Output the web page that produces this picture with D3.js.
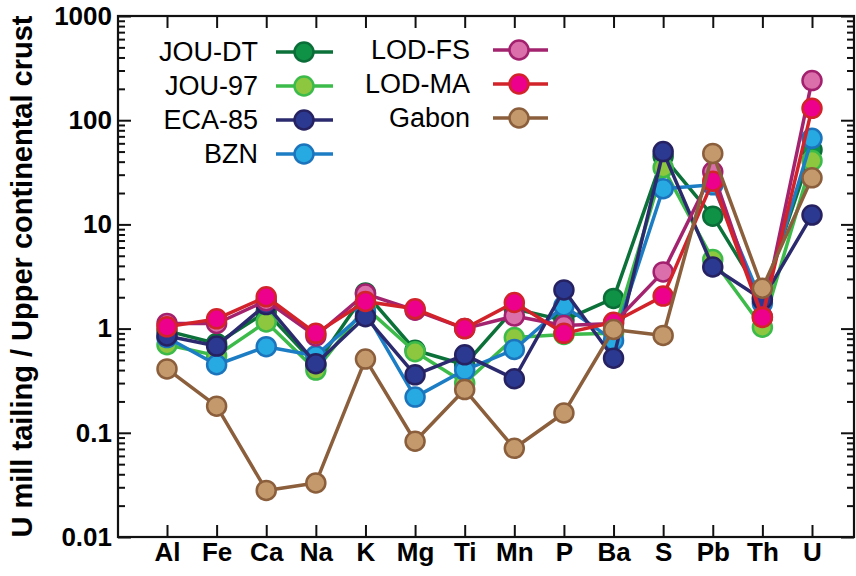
<!DOCTYPE html>
<html>
<head>
<meta charset="utf-8">
<script src="https://cdn.jsdelivr.net/npm/d3@7"></script>
<style>
  html, body { margin: 0; padding: 0; background: #fff; }
  svg { display: block; }
  text { font-family: "Liberation Sans", Arial, Helvetica, sans-serif; fill: #000; }
</style>
</head>
<body>
<svg id="chart" width="856" height="576"></svg>
<script>
// ---- Data ----
const elements = ["Al", "Fe", "Ca", "Na", "K", "Mg", "Ti", "Mn", "P", "Ba", "S", "Pb", "Th", "U"];
const seriesNames = ["JOU-DT", "JOU-97", "BZN", "ECA-85", "LOD-FS", "LOD-MA", "Gabon"];
const jouDT  = [0.95, 0.72, 1.45, 0.45, 2.2, 0.62, 0.45, 1.55, 1.2, 1.95, 45, 12, 2.0, 52];
const jou97  = [0.70, 0.55, 1.16, 0.40, 1.6, 0.60, 0.30, 0.82, 0.88, 0.9, 35, 4.6, 1.03, 41];
const eca85  = [0.85, 0.68, 1.7, 0.46, 1.30, 0.36, 0.56, 0.33, 2.35, 0.52, 50, 3.9, 1.9, 12.3];
const bzn    = [0.82, 0.45, 0.67, 0.55, 1.45, 0.22, 0.40, 0.63, 1.65, 0.77, 22, 24, 1.75, 67];
const lodFS  = [1.12, 1.12, 1.85, 0.85, 2.15, 1.5, 1.0, 1.32, 1.07, 1.12, 3.5, 32, 1.3, 240];
const lodMA  = [1.04, 1.24, 2.02, 0.90, 1.82, 1.55, 1.0, 1.78, 0.90, 1.15, 2.05, 26, 1.28, 130];
const gabon  = [0.41, 0.18, 0.028, 0.033, 0.51, 0.083, 0.26, 0.071, 0.155, 0.98, 0.86, 48, 2.44, 28];
const yTickValues = [0.01, 0.1, 1, 10, 100, 1000];
const yTickLabels = ["0.01", "0.1", "1", "10", "100", "1000"];
const yTitle = "U mill tailing / Upper continental crust";

// ---- Styles ----
const styles = {
  "JOU-DT": { fill: "#0f9146", stroke: "#0b6e38", line: "#0b7139" },
  "JOU-97": { fill: "#8dc63f", stroke: "#3dbb4a", line: "#3dbb4a" },
  "ECA-85": { fill: "#2b3990", stroke: "#262262", line: "#2b2a6e" },
  "BZN":    { fill: "#27aae1", stroke: "#1c75bc", line: "#1c7dc4" },
  "LOD-FS": { fill: "#da6fab", stroke: "#a3206e", line: "#a3236f" },
  "LOD-MA": { fill: "#ec008c", stroke: "#d2232a", line: "#d2232a" },
  "Gabon":  { fill: "#c49a6c", stroke: "#8b5e3c", line: "#8b5e3c" }
};
const valuesByName = {
  "JOU-DT": jouDT, "JOU-97": jou97, "ECA-85": eca85, "BZN": bzn,
  "LOD-FS": lodFS, "LOD-MA": lodMA, "Gabon": gabon
};

// ---- Layout ----
const L = 118, R = 854, T = 16, B = 537;
const svg = d3.select("#chart");

const x = d3.scalePoint().domain(elements).range([167, 812]);
const y = d3.scaleLog().domain([0.01, 1000]).range([B, T]);

const minorTicks = [];
for (let e = -2; e < 3; e++) {
  for (let m = 2; m <= 9; m++) minorTicks.push(m * Math.pow(10, e));
}

// Axes
const gAxes = svg.append("g");
// left
gAxes.append("g").attr("transform", `translate(${L},0)`)
  .call(d3.axisLeft(y).tickValues(yTickValues).tickSize(-13).tickPadding(6)
        .tickFormat((d, i) => yTickLabels[i]))
  .call(g => g.selectAll("text").style("font-size", "26px").style("font-weight", "bold"));
gAxes.append("g").attr("transform", `translate(${L},0)`)
  .call(d3.axisLeft(y).tickValues(minorTicks).tickSize(-7).tickFormat(""));
// right
gAxes.append("g").attr("transform", `translate(${R},0)`)
  .call(d3.axisRight(y).tickValues(yTickValues).tickSize(-13).tickFormat(""));
gAxes.append("g").attr("transform", `translate(${R},0)`)
  .call(d3.axisRight(y).tickValues(minorTicks).tickSize(-7).tickFormat(""));
// bottom
gAxes.append("g").attr("transform", `translate(0,${B})`)
  .call(d3.axisBottom(x).tickSize(-12).tickPadding(6))
  .call(g => g.selectAll("text").style("font-size", "26px").style("font-weight", "bold"));
// top
gAxes.append("g").attr("transform", `translate(0,${T})`)
  .call(d3.axisTop(x).tickSize(-12).tickFormat(""));

gAxes.selectAll(".domain").remove();
gAxes.selectAll("line").attr("stroke", "#111").attr("stroke-width", 2);
// frame
svg.append("rect").attr("x", L).attr("y", T).attr("width", R - L).attr("height", B - T)
  .attr("fill", "none").attr("stroke", "#111").attr("stroke-width", 2.2);

// y title
svg.append("text")
  .attr("transform", `translate(22,${(T + B) / 2}) rotate(-90)`)
  .attr("text-anchor", "middle")
  .attr("dominant-baseline", "central")
  .style("font-size", "29px").style("font-weight", "bold")
  .text(yTitle);

// Series
const line = d3.line().x((d, i) => x(elements[i])).y(d => y(d));
seriesNames.forEach(name => {
  const vals = valuesByName[name];
  const st = styles[name];
  const g = svg.append("g");
  g.append("path").attr("d", line(vals)).attr("fill", "none")
    .attr("stroke", st.line).attr("stroke-width", 3.5).attr("stroke-linejoin", "round");
  g.selectAll("circle").data(vals).enter().append("circle")
    .attr("cx", (d, i) => x(elements[i])).attr("cy", d => y(d)).attr("r", 9.5)
    .attr("fill", st.fill).attr("stroke", st.stroke).attr("stroke-width", 2.5);
});

// Legend
const legendLeft = ["JOU-DT", "JOU-97", "ECA-85", "BZN"];
const legendRight = ["LOD-FS", "LOD-MA", "Gabon"];
function legendCol(names, textX, lineX1, lineX2, markX, y0, dy) {
  names.forEach((name, i) => {
    const yy = y0 + i * dy;
    const st = styles[name];
    svg.append("text").attr("x", textX).attr("y", yy).attr("text-anchor", "end")
      .attr("dominant-baseline", "central").style("font-size", "27px").text(name);
    svg.append("line").attr("x1", lineX1).attr("x2", lineX2).attr("y1", yy).attr("y2", yy)
      .attr("stroke", st.line).attr("stroke-width", 3.5);
    svg.append("circle").attr("cx", markX).attr("cy", yy).attr("r", 9.5)
      .attr("fill", st.fill).attr("stroke", st.stroke).attr("stroke-width", 2.5);
  });
}
legendCol(legendLeft, 258, 276, 333, 304, 52, 34);
legendCol(legendRight, 470, 493, 548, 519, 50, 34);
</script>
</body>
</html>
